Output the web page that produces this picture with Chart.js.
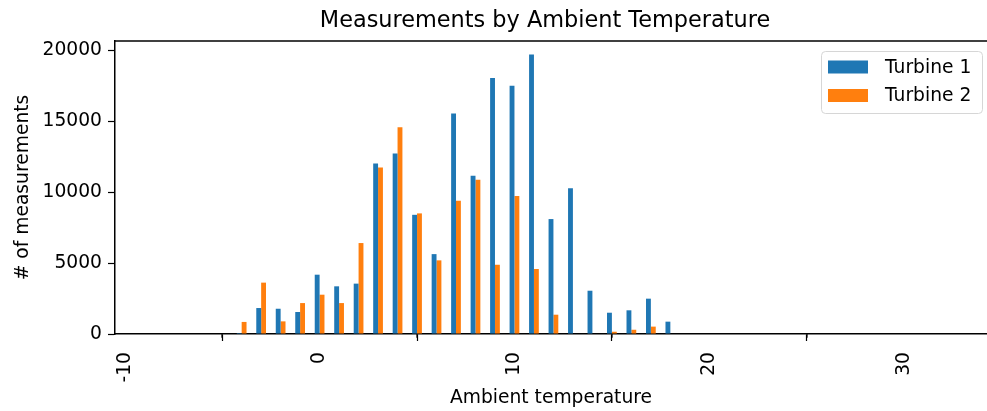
<!DOCTYPE html>
<html>
<head>
<meta charset="utf-8">
<script src="https://cdn.jsdelivr.net/npm/chart.js@4/dist/chart.umd.min.js"></script>
<style>
  html, body { margin: 0; padding: 0; background: #fff; }
  #chart { display: block; }
</style>
</head>
<body>
<canvas id="chart" width="987" height="411"></canvas>
<script>
// ambient temperature bins and counts per turbine
const temperatures = [-4, -3, -2, -1, 0, 1, 2, 3, 4, 5, 6, 7, 8, 9, 10, 11, 12, 13, 14, 15, 16, 17, 18];
const turbine1 = [70, 1830, 1780, 1550, 4180, 3360, 3550, 12020, 12720, 8400, 5630, 15540, 11150, 18050, 17490, 19700, 8100, 10280, 3050, 1500, 1670, 2490, 870];
const turbine2 = [850, 3620, 890, 2180, 2770, 2180, 6410, 11740, 14580, 8500, 5190, 9390, 10870, 4880, 9720, 4580, 1360, 0, 0, 160, 300, 520, 0];
const xMajorTicks = [-10, 0, 10, 20, 30];
const xMinorTicks = [-5, 5, 15, 25];
const yTicks = [0, 5000, 10000, 15000, 20000];
const chartTitle = 'Measurements by Ambient Temperature';

const FONT = 'DejaVu Sans';
const SMALL = 18.7;

const toPoints = (vals) => vals.map((v, i) => ({ x: temperatures[i], y: v }));

// title, top spine, minor x ticks and the framed legend inside the plot
const extras = {
  id: 'extras',
  afterDraw(chart) {
    const { ctx, chartArea } = chart;
    const xs = chart.scales.x;
    ctx.save();
    ctx.fillStyle = '#000';
    ctx.font = '22.4px "' + FONT + '"';
    ctx.textAlign = 'center';
    ctx.textBaseline = 'middle';
    ctx.fillText(chartTitle, 545, 21);

    ctx.strokeStyle = '#000';
    ctx.lineWidth = 1.5;
    ctx.beginPath();
    ctx.moveTo(chartArea.left, chartArea.top);
    ctx.lineTo(chartArea.right, chartArea.top);
    ctx.stroke();

    ctx.lineWidth = 1.2;
    xMinorTicks.forEach(v => {
      const px = Math.round(xs.getPixelForValue(v));
      ctx.beginPath();
      ctx.moveTo(px, chartArea.bottom);
      ctx.lineTo(px, chartArea.bottom + 3.7);
      ctx.stroke();
    });

    // legend
    const bx = 821, by = 51, bw = 161, bh = 62, r = 4;
    ctx.fillStyle = 'rgba(255,255,255,0.8)';
    ctx.strokeStyle = '#d6d6d6';
    ctx.lineWidth = 1;
    ctx.beginPath();
    ctx.roundRect(bx + 0.5, by + 0.5, bw, bh, r);
    ctx.fill();
    ctx.stroke();
    ctx.font = SMALL + 'px "' + FONT + '"';
    ctx.textAlign = 'left';
    ctx.textBaseline = 'middle';
    chart.data.datasets.forEach((ds, i) => {
      const y = 67 + i * 28.5;
      ctx.fillStyle = ds.backgroundColor;
      ctx.fillRect(828, y - 6.5, 40, 13);
      ctx.fillStyle = '#000';
      ctx.fillText(ds.label, 885, y + 1);
    });
    ctx.restore();
  }
};

new Chart(document.getElementById('chart'), {
  type: 'bar',
  data: {
    datasets: [
      { label: 'Turbine 1', data: toPoints(turbine1), backgroundColor: '#1f77b4' },
      { label: 'Turbine 2', data: toPoints(turbine2), backgroundColor: '#ff7f0e' }
    ]
  },
  options: {
    responsive: false,
    animation: false,
    layout: { padding: { left: 0, right: 0, top: 41, bottom: 0 } },
    datasets: {
      bar: { categoryPercentage: 0.5, barPercentage: 1.0 }
    },
    plugins: {
      legend: { display: false },
      tooltip: { enabled: false },
      title: { display: false }
    },
    scales: {
      x: {
        type: 'linear',
        min: -10.5,
        max: 34.25,
        offset: false,
        afterBuildTicks: (s) => { s.ticks = xMajorTicks.map(v => ({ value: v })); },
        afterFit: (s) => { s.height = 77; },
        ticks: {
          color: '#000',
          font: { family: FONT, size: SMALL },
          minRotation: 90,
          maxRotation: 90,
          padding: 11,
          callback: (v) => String(v)
        },
        grid: { display: true, drawOnChartArea: false, tickLength: 7, tickWidth: 1.2, tickColor: '#000' },
        border: { display: true, color: '#000', width: 1.5 },
        title: {
          display: true,
          text: 'Ambient temperature',
          color: '#000',
          font: { family: FONT, size: SMALL },
          padding: { top: 0, bottom: 2 }
        }
      },
      y: {
        min: 0,
        max: 20650,
        afterBuildTicks: (s) => { s.ticks = yTicks.map(v => ({ value: v })); },
        afterFit: (s) => { s.width = 115; },
        ticks: {
          color: '#000',
          font: { family: FONT, size: SMALL },
          padding: 6,
          callback: (v) => String(v)
        },
        grid: { display: true, drawOnChartArea: false, tickLength: 7, tickWidth: 1.2, tickColor: '#000' },
        border: { display: true, color: '#000', width: 1.5 },
        title: {
          display: true,
          text: '# of measurements',
          color: '#000',
          font: { family: FONT, size: SMALL },
          padding: { top: 12, bottom: 0 }
        }
      }
    }
  },
  plugins: [extras]
});
</script>
</body>
</html>
